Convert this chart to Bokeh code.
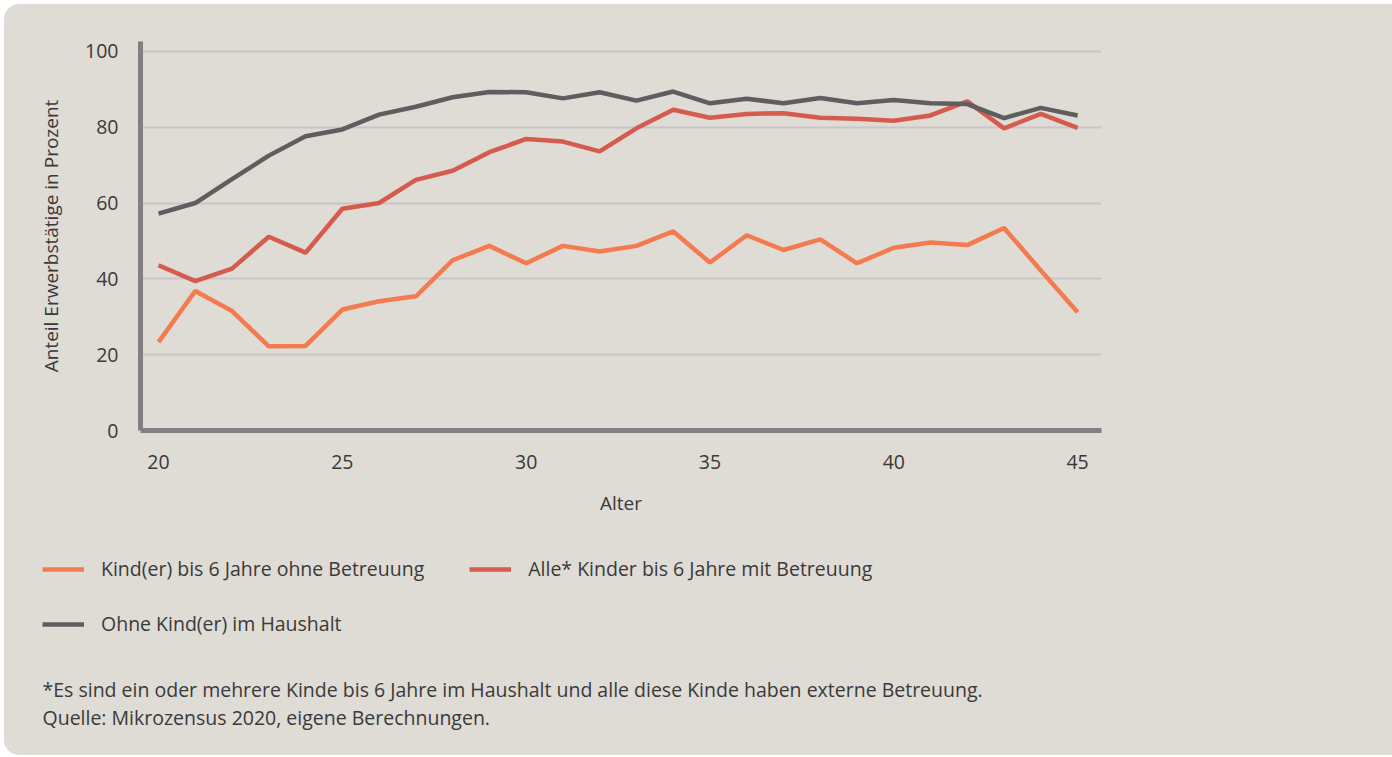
from bokeh.plotting import figure
from bokeh.layouts import column
from bokeh.models import Range1d, Legend, LegendItem, Label, FixedTicker
from bokeh.embed import file_html
from bokeh.resources import INLINE

alter = list(range(20, 46))
ohne_betreuung = [23.3, 36.8, 31.5, 22.2, 22.3, 31.9, 34.1, 35.4, 44.9, 48.7, 44.1, 48.7, 47.2,
                  48.7, 52.5, 44.3, 51.5, 47.6, 50.4, 44.1, 48.2, 49.6, 48.9, 53.4, 42.2, 31.2]
mit_betreuung = [43.6, 39.4, 42.7, 51.1, 46.9, 58.5, 60.0, 66.1, 68.5, 73.4, 76.9, 76.2, 73.6,
                 79.7, 84.6, 82.5, 83.5, 83.7, 82.5, 82.2, 81.7, 83.1, 86.8, 79.7, 83.5, 79.8]
ohne_kinder = [57.2, 60.0, 66.3, 72.5, 77.6, 79.4, 83.3, 85.4, 87.9, 89.3, 89.2, 87.6, 89.2,
               87.0, 89.4, 86.3, 87.5, 86.3, 87.7, 86.3, 87.2, 86.3, 86.1, 82.4, 85.1, 83.1]
x_ticks = [20, 25, 30, 35, 40, 45]
y_ticks = [0, 20, 40, 60, 80, 100]
labels = ["Kind(er) bis 6 Jahre ohne Betreuung", "Alle* Kinder bis 6 Jahre mit Betreuung",
          "Ohne Kind(er) im Haushalt"]
colors = ["#f47a50", "#d65b4f", "#5e5e5e"]
notes = ["*Es sind ein oder mehrere Kinde bis 6 Jahre im Haushalt und alle diese Kinde haben externe Betreuung.",
         "Quelle: Mikrozensus 2020, eigene Berechnungen."]
series = [ohne_betreuung, mit_betreuung, ohne_kinder]

BG = "#dfdbd5"
FONT = "Open Sans"
TXT = "#3a3a3a"
FS = "19.5px"
OFF = 4          # panel inset from the page's top-left corner
W = 1392 - OFF

# ---- main chart ----
p = figure(width=W, height=530 - OFF, output_backend="svg", toolbar_location=None,
           x_range=Range1d(19.51, 45.65), y_range=Range1d(0, 102.6),
           min_border_left=140 - OFF, min_border_right=W - (1101 - OFF),
           min_border_top=41 - OFF, min_border_bottom=100)
p.background_fill_alpha = 0
p.border_fill_alpha = 0
p.outline_line_color = None

for ys, c in zip(series, colors):
    p.line(alter, ys, line_color=c, line_width=4.5)

p.xgrid.visible = False
p.ygrid.ticker = FixedTicker(ticks=y_ticks)
p.ygrid.grid_line_color = "#c8c6c8"
p.ygrid.grid_line_width = 2

for ax in (p.xaxis[0], p.yaxis[0]):
    ax.axis_line_color = "#808083"
    ax.axis_line_width = 5
    ax.major_tick_line_color = None
    ax.minor_tick_line_color = None
    ax.major_label_text_font = FONT
    ax.major_label_text_font_size = FS
    ax.major_label_text_color = TXT
    ax.axis_label_text_font = FONT
    ax.axis_label_text_font_size = "19px"
    ax.axis_label_text_color = TXT
    ax.axis_label_text_font_style = "normal"

p.xaxis.ticker = FixedTicker(ticks=x_ticks)
p.yaxis.ticker = FixedTicker(ticks=y_ticks)
p.xaxis.axis_label = "Alter"
p.yaxis.axis_label = "Anteil Erwerbstätige in Prozent"
p.xaxis.major_label_standoff = 18
p.yaxis.major_label_standoff = 16
p.xaxis.axis_label_standoff = 18
p.yaxis.axis_label_standoff = 18

# ---- legend + notes panel ----
H2 = 225
q = figure(width=W, height=H2, output_backend="svg", toolbar_location=None,
           x_range=Range1d(0, 1), y_range=Range1d(0, 1),
           min_border_left=0, min_border_right=0, min_border_top=0, min_border_bottom=0)
q.background_fill_alpha = 0
q.border_fill_alpha = 0
q.outline_line_color = None
q.axis.visible = False
q.grid.visible = False
for fig in (p, q):
    if "frame_align" in fig.properties():
        fig.frame_align = False
rs = [q.line(alter, ys, line_color=c, line_width=4.5) for ys, c in zip(series, colors)]

LX = 42 - OFF
common = dict(background_fill_alpha=0, border_line_alpha=0, padding=0, margin=0,
              label_text_font=FONT, label_text_font_size=FS, label_text_color=TXT,
              glyph_width=42, label_standoff=17, glyph_height=26, label_height=26)
lg1 = Legend(items=[LegendItem(label=labels[0], renderers=[rs[0]]),
                    LegendItem(label=labels[1], renderers=[rs[1]])],
             orientation="horizontal", spacing=45, location=(LX, H2 - 52), **common)
lg2 = Legend(items=[LegendItem(label=labels[2], renderers=[rs[2]])],
             location=(LX, H2 - 107), **common)
q.add_layout(lg1, "center")
q.add_layout(lg2, "center")

for i, t in enumerate(notes):
    q.add_layout(Label(x=LX, y=H2 - 159 - 28 * i, x_units="screen", y_units="screen", text=t,
                       text_font=FONT, text_font_size=FS, text_color=TXT,
                       text_baseline="middle"))

layout = column(p, q, spacing=0, margin=(OFF, 0, 0, OFF),
                styles={"background-color": BG, "border-radius": "15px 0 0 15px",
                        "overflow": "hidden"})
open("out.html", "w").write(file_html(layout, INLINE))
